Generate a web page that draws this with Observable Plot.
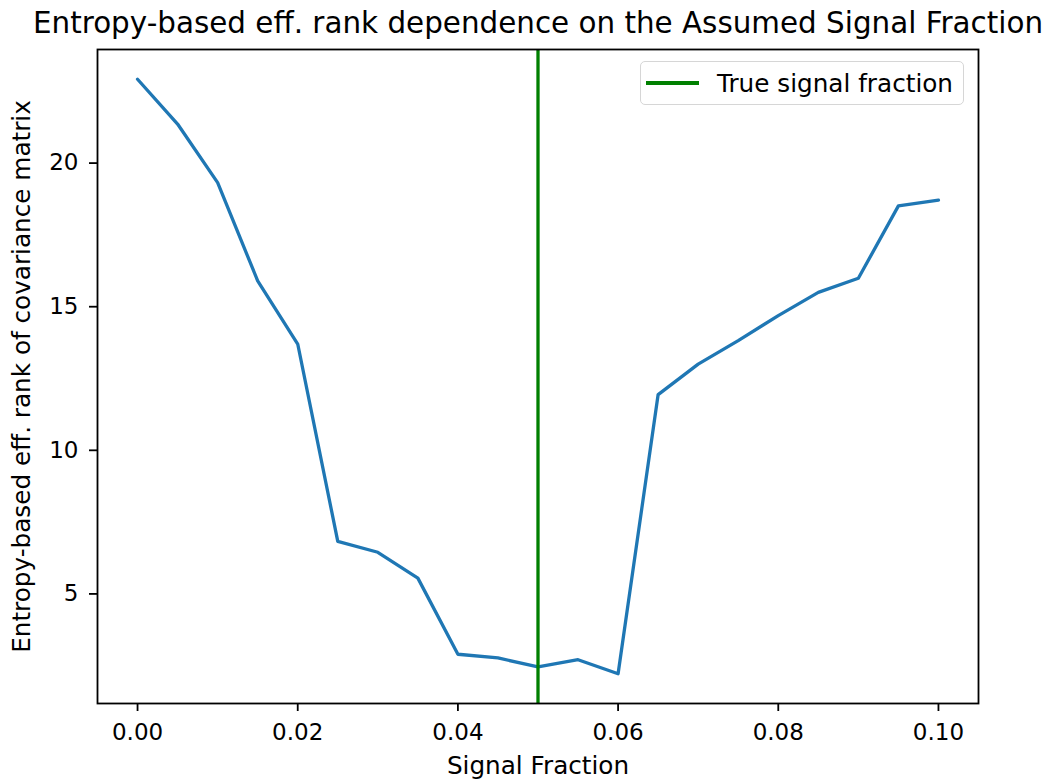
<!DOCTYPE html>
<html>
<head>
<meta charset="utf-8">
<script src="https://cdn.jsdelivr.net/npm/d3@7"></script>
<script src="https://cdn.jsdelivr.net/npm/@observablehq/plot@0.6"></script>
<style>
  html, body { margin: 0; padding: 0; background: #fff; }
  #chart { position: relative; width: 1049px; height: 780px; font-family: "DejaVu Sans", sans-serif; }
  #legend {
    position: absolute; left: 640px; top: 61px; width: 324px; height: 44px;
    border: 1.5px solid #d6d6d6; border-radius: 5px; background: rgba(255,255,255,0.8);
    display: flex; align-items: center; box-sizing: border-box;
  }
  #legend .swatch { width: 53px; height: 3.3px; margin-left: 5px; }
  #legend .lbl { margin-left: 18px; font-size: 24.7px; color: #000; font-family: "DejaVu Sans", sans-serif; white-space: nowrap; }
</style>
</head>
<body>
<div id="chart"></div>
<script>
// ---- data ----
const title = "Entropy-based eff. rank dependence on the Assumed Signal Fraction";
const xLabel = "Signal Fraction";
const yLabel = "Entropy-based eff. rank of covariance matrix";
const legendLabel = "True signal fraction";
const trueFraction = [0.05];
const fractions = [0.000, 0.005, 0.010, 0.015, 0.020, 0.025, 0.030, 0.035, 0.040, 0.045, 0.050,
                   0.055, 0.060, 0.065, 0.070, 0.075, 0.080, 0.085, 0.090, 0.095, 0.100];
const ranks = [22.92, 21.36, 19.32, 15.90, 13.70, 6.83, 6.45, 5.55, 2.90, 2.77, 2.46,
               2.71, 2.22, 11.94, 13.00, 13.82, 14.69, 15.50, 15.99, 18.51, 18.71];
const xTicks = [0.00, 0.02, 0.04, 0.06, 0.08, 0.10];
const yTicks = [5, 10, 15, 20];

const lineColor = "#1f77b4";
const trueColor = "#008000";

const data = fractions.map((f, i) => ({f, r: ranks[i]}));

// matplotlib-style 5% margins
const xmin = d3.min(fractions), xmax = d3.max(fractions);
const ymin = d3.min(ranks), ymax = d3.max(ranks);
const xm = 0.05 * (xmax - xmin), ym = 0.05 * (ymax - ymin);

const font = "DejaVu Sans";
const chart = Plot.plot({
  width: 1049,
  height: 780,
  marginLeft: 97,
  marginRight: 71,
  marginTop: 49,
  marginBottom: 77,
  style: {fontFamily: font, background: "#fff", color: "#000"},
  x: {domain: [xmin - xm, xmax + xm]},
  y: {domain: [ymin - ym, ymax + ym]},
  marks: [
    Plot.line(data, {x: "f", y: "r", stroke: lineColor, strokeWidth: 3.3}),
    Plot.ruleX(trueFraction, {stroke: trueColor, strokeWidth: 3.3}),
    Plot.frame({stroke: "#000", strokeWidth: 1.8}),
    Plot.axisX({ticks: xTicks, tickFormat: d3.format(".2f"), tickSize: 8, tickPadding: 12,
                fontSize: 23, label: null, strokeWidth: 1.8, stroke: "#000"}),
    Plot.axisY({ticks: yTicks, tickSize: 8, tickPadding: 11, fontSize: 23, label: null,
                strokeWidth: 1.8, stroke: "#000"}),
    Plot.text([title], {frameAnchor: "top", dy: -26.4, fontSize: 29.4, text: d => d, fill: "#000",
                        lineAnchor: "middle", textAnchor: "middle"}),
    Plot.text([xLabel], {frameAnchor: "bottom", dy: 63, fontSize: 24.7, text: d => d, fill: "#000",
                         lineAnchor: "middle", textAnchor: "middle"}),
    Plot.text([yLabel], {frameAnchor: "left", dx: -75, rotate: -90, fontSize: 24.7, text: d => d, fill: "#000",
                         lineAnchor: "middle", textAnchor: "middle"})
  ]
});
const host = document.getElementById("chart");
host.appendChild(chart);

const legend = document.createElement("div");
legend.id = "legend";
const sw = document.createElement("div");
sw.className = "swatch";
sw.style.background = trueColor;
const lb = document.createElement("span");
lb.className = "lbl";
lb.textContent = legendLabel;
legend.appendChild(sw);
legend.appendChild(lb);
host.appendChild(legend);
</script>
</body>
</html>
